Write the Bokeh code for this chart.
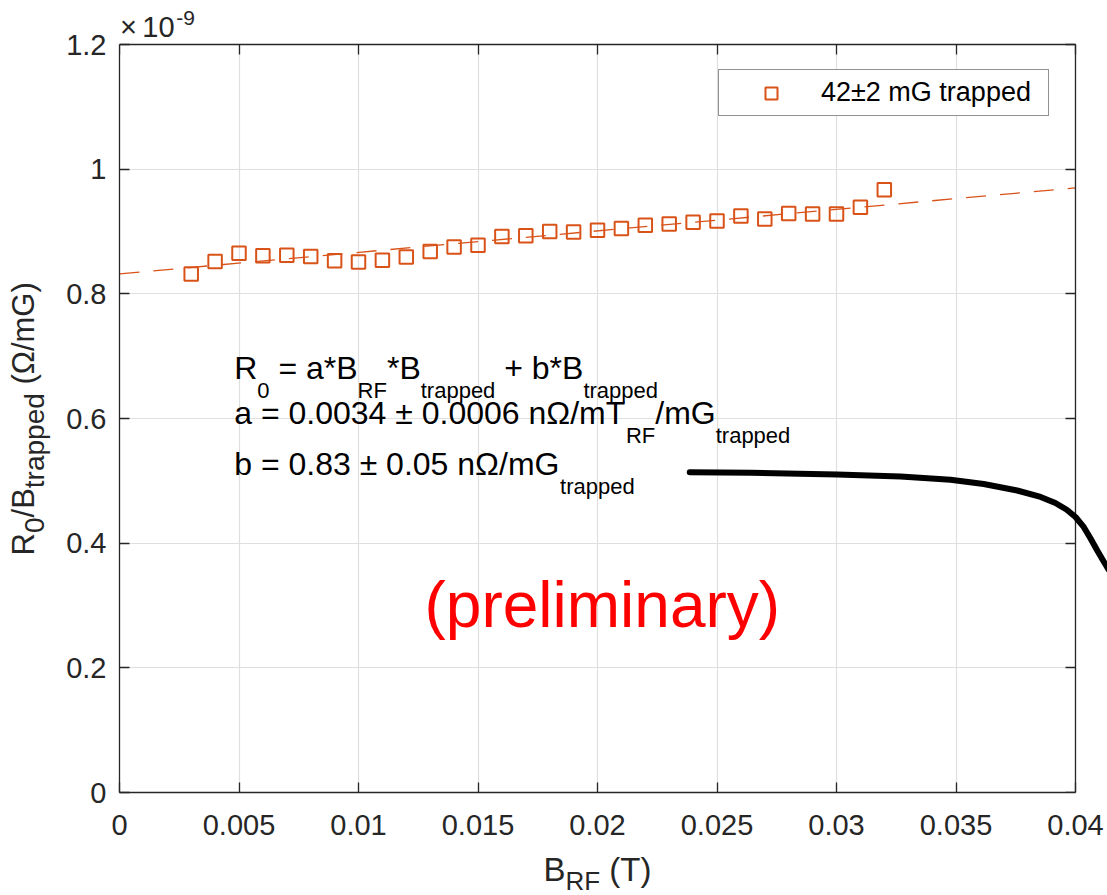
import math

from bokeh.embed import file_html
from bokeh.layouts import column, row
from bokeh.models import (BoxAnnotation, FixedTicker, Label, Legend, LegendItem,
                          LinearAxis, PolyAnnotation, Range1d)
from bokeh.plotting import figure
from bokeh.resources import INLINE

# Measured normalised residual resistance vs RF field amplitude
b_rf = [0.003, 0.004, 0.005, 0.006, 0.007, 0.008, 0.009, 0.010, 0.011, 0.012,
        0.013, 0.014, 0.015, 0.016, 0.017, 0.018, 0.019, 0.020, 0.021, 0.022,
        0.023, 0.024, 0.025, 0.026, 0.027, 0.028, 0.029, 0.030, 0.031, 0.032]
r0_over_b = [0.832, 0.852, 0.865, 0.861, 0.862, 0.860, 0.853, 0.851, 0.854, 0.859,
             0.868, 0.875, 0.878, 0.892, 0.893, 0.900, 0.899, 0.902, 0.905, 0.910,
             0.912, 0.915, 0.917, 0.925, 0.920, 0.929, 0.928, 0.928, 0.939, 0.967]

# Linear fit (b + a*B_RF), drawn across the full axis
fit_x = [0.0, 0.04]
fit_y = [0.832, 0.970]

# Hand-drawn black stroke that runs off the right side of the axes box
stroke_x = [0.02386, 0.02642, 0.03003, 0.03268, 0.03477, 0.03616, 0.03756, 0.03854,
            0.03916, 0.03962, 0.04000, 0.04035, 0.04063, 0.04091, 0.04113, 0.04138]
stroke_y = [0.5139, 0.5129, 0.5102, 0.5070, 0.5017, 0.4949, 0.4845, 0.4741,
            0.4644, 0.4540, 0.4420, 0.4256, 0.4075, 0.3882, 0.3738, 0.3578]

x_ticks = [0, 0.005, 0.01, 0.015, 0.02, 0.025, 0.03, 0.035, 0.04]
x_tick_labels = ["0", "0.005", "0.01", "0.015", "0.02", "0.025", "0.03", "0.035", "0.04"]
y_ticks = [0, 0.2, 0.4, 0.6, 0.8, 1.0, 1.2]
y_tick_labels = ["0", "0.2", "0.4", "0.6", "0.8", "1", "1.2"]

legend_label = "42\u00b12 mG trapped"

FONT = "Liberation Sans"
AX_COLOR = "#262626"
ORANGE = "#D95319"

# Arial / Liberation Sans advance widths (1/1000 em) for laying out subscripts
WIDTHS = {" ": 278, "(": 333, ")": 333, "*": 389, "+": 584, "-": 333, ".": 278,
          "/": 278, "=": 584, "\u00b1": 549, "\u03a9": 768, "\u00d7": 584,
          "B": 667, "G": 778, "R": 722, "T": 611, "F": 611,
          "a": 556, "b": 556, "d": 556, "e": 556, "i": 222, "l": 222, "m": 833,
          "n": 556, "p": 556, "r": 333, "t": 278, "y": 500}
# labels are anchored on the middle of the em box; distance to the baseline
BASELINE_DROP = 0.3465


def advance(text, size):
    return sum(WIDTHS.get(c, 556) for c in text) * size / 1000.0


def rich_text(fig, runs, x, y, main, sub=None, shift=0.0, x_units="data",
              y_units="data", vertical=False, color="black", center=False):
    """Place runs of (text, is_subscript) one after another on a common baseline."""
    sub = sub or main
    total = sum(advance(t, sub if s else main) for t, s in runs)
    off = -total / 2.0 if center else 0.0
    for text, is_sub in runs:
        size = sub if is_sub else main
        lead = text[:len(text) - len(text.lstrip(" "))]
        start = off + advance(lead, size)
        drop = (shift if is_sub else 0.0) - BASELINE_DROP * size
        xo, yo = (drop, start) if vertical else (start, -drop)
        fig.add_layout(Label(x=x, y=y, x_units=x_units, y_units=y_units,
                             x_offset=xo, y_offset=yo, text=text.strip(" "),
                             angle=math.pi / 2 if vertical else 0,
                             text_font=FONT, text_font_size=f"{size}px",
                             text_color=color, text_align="left",
                             text_baseline="alphabetic"))
        off += advance(text, size)


def strip(width, height, y_range=None):
    s = figure(width=width, height=height, output_backend="svg", toolbar_location=None,
               title=None, x_range=Range1d(0, 1), y_range=y_range or Range1d(0, 1),
               x_axis_location=None, y_axis_location=None, min_border=0)
    s.outline_line_color = None
    s.grid.grid_line_color = None
    s.background_fill_color = "white"
    s.border_fill_color = "white"
    return s


# page geometry (pixels)
W, H = 1107, 895
LEFT_W, BOTTOM_H = 52, 46
MAIN_W, MAIN_H = W - LEFT_W, H - BOTTOM_H
FRAME_T = 4
BOX_L, BOX_R, BOX_T, BOX_B = 119, 1075, 44, 792

# the frame runs past the axes box to the right and top edges of the page,
# so the stroke and the axis exponent can sit outside the box
x_end = 0.04 * (W - BOX_L) / (BOX_R - BOX_L)
y_end = 1.2 * (BOX_B - FRAME_T) / (BOX_B - BOX_T)

p = figure(width=MAIN_W, height=MAIN_H, output_backend="svg", toolbar_location=None,
           title=None, x_range=Range1d(0, x_end), y_range=Range1d(0, y_end),
           min_border_left=BOX_L - LEFT_W, min_border_right=0,
           min_border_top=FRAME_T, min_border_bottom=MAIN_H - BOX_B)
p.background_fill_color = "white"
p.border_fill_color = "white"
p.outline_line_color = None

bottom_axis = p.below[0]
left_axis = p.left[0]
top_axis = LinearAxis(fixed_location=1.2)
p.add_layout(top_axis, "above")
box_right = LinearAxis(fixed_location=0.04)
p.add_layout(box_right, "left")

for ax in (bottom_axis, top_axis):
    ax.bounds = (0, 0.04)
    ax.ticker = FixedTicker(ticks=x_ticks)
    ax.major_label_overrides = dict(zip(x_ticks, x_tick_labels))
for ax in (left_axis, box_right):
    ax.bounds = (0, 1.2)
    ax.ticker = FixedTicker(ticks=y_ticks)
    ax.major_label_overrides = dict(zip(y_ticks, y_tick_labels))

for ax in (bottom_axis, top_axis, left_axis, box_right):
    ax.axis_line_color = AX_COLOR
    ax.axis_line_width = 1.3
    ax.major_tick_in = 10
    ax.major_tick_out = 0
    ax.major_tick_line_color = AX_COLOR
    ax.major_tick_line_width = 1.3
    ax.minor_tick_line_color = None
    ax.major_label_text_font = FONT
    ax.major_label_text_font_size = "29px"
    ax.major_label_text_color = AX_COLOR

bottom_axis.major_label_standoff = 22
left_axis.major_label_standoff = 13
for ax in (top_axis, box_right):
    ax.major_label_text_color = None
    ax.major_label_text_font_size = "1px"
    ax.major_label_standoff = 0
# right edge of the box: ticks point back into the box
box_right.major_tick_in = 0
box_right.major_tick_out = 10

p.xgrid.grid_line_color = "#dfdfdf"
p.ygrid.grid_line_color = "#dfdfdf"
p.xgrid.grid_line_width = 1.2
p.ygrid.grid_line_width = 1.2
# keep the grid inside the axes box
p.add_layout(BoxAnnotation(left=0.04, fill_color="white", fill_alpha=1.0,
                           line_color=None, level="underlay"))
p.add_layout(BoxAnnotation(bottom=1.2, fill_color="white", fill_alpha=1.0,
                           line_color=None, level="underlay"))

# fit line and data
p.line(fit_x, fit_y, line_color=ORANGE, line_width=1.3, line_dash="20 14")
pts = p.scatter(b_rf, r0_over_b, marker="square", size=13.5, fill_color=None,
                line_color=ORANGE, line_width=2)

legend = Legend(items=[LegendItem(label=legend_label, renderers=[pts])],
                location=(599, 676), margin=0, padding=7,
                glyph_width=90, glyph_height=30, label_standoff=5,
                label_width=220, label_text_font=FONT,
                label_text_font_size="27px", label_text_color="black",
                border_line_color=AX_COLOR, border_line_width=1.3,
                background_fill_color="white", background_fill_alpha=1.0)
p.add_layout(legend)

# fit annotation
ANN_X = 0.0048
rich_text(p, [("R", False), ("0", True), (" = a*B", False), ("RF", True),
              ("*B", False), ("trapped", True), (" + b*B", False), ("trapped", True)],
          x=ANN_X, y=0.6629, main=32, sub=22, shift=19)
rich_text(p, [("a = 0.0034 \u00b1 0.0006 n\u03a9/mT", False), ("RF", True),
              ("/mG", False), ("trapped", True)],
          x=ANN_X, y=0.5917, main=32, sub=22, shift=19)
rich_text(p, [("b = 0.83 \u00b1 0.05 n\u03a9/mG", False), ("trapped", True)],
          x=ANN_X, y=0.5086, main=32, sub=22, shift=19)

rich_text(p, [("(preliminary)", False)], x=0.0202, y=0.2652, main=64,
          color="#ff0000", center=True)

# black stroke, traced out and back so the closed outline stays a single path
p.add_layout(PolyAnnotation(xs=stroke_x + stroke_x[::-1], ys=stroke_y + stroke_y[::-1],
                            fill_alpha=0, line_color="black", line_alpha=1.0,
                            line_width=6, line_join="round"))

# axis exponent above the top-left corner of the box
EXP_Y = BOX_B - 36.7
rich_text(p, [("\u00d7", False)], x=0.4, y=EXP_Y, x_units="screen",
          y_units="screen", main=29, color=AX_COLOR)
rich_text(p, [("10", False)], x=141.8 - BOX_L, y=EXP_Y, x_units="screen",
          y_units="screen", main=29, color=AX_COLOR)
rich_text(p, [("-9", False)], x=175.8 - BOX_L, y=BOX_B - 25.0, x_units="screen",
          y_units="screen", main=21, color=AX_COLOR)

# y-axis title: R_0/B_trapped (Ω/mG); this strip's frame lines up with the main frame
left = strip(LEFT_W, MAIN_H, y_range=Range1d(0, y_end))
rich_text(left, [("R", False), ("0", True), ("/B", False), ("trapped", True),
                 (" (\u03a9/mG)", False)],
          x=33.3, y=0.6, x_units="screen", main=31, sub=28, shift=10,
          vertical=True, color=AX_COLOR, center=True)

# x-axis title: B_RF (T), kept just inside the bottom edge of the page
bottom = strip(W, BOTTOM_H)
rich_text(bottom, [("B", False), ("RF", True), (" (T)", False)],
          x=(BOX_L + BOX_R) / 2, y=H - 880.5, x_units="screen", y_units="screen",
          main=33, sub=26, shift=9, color=AX_COLOR, center=True)

page = column(row(left, p, spacing=0), bottom, spacing=0)

open("out.html", "w").write(file_html(page, INLINE))
